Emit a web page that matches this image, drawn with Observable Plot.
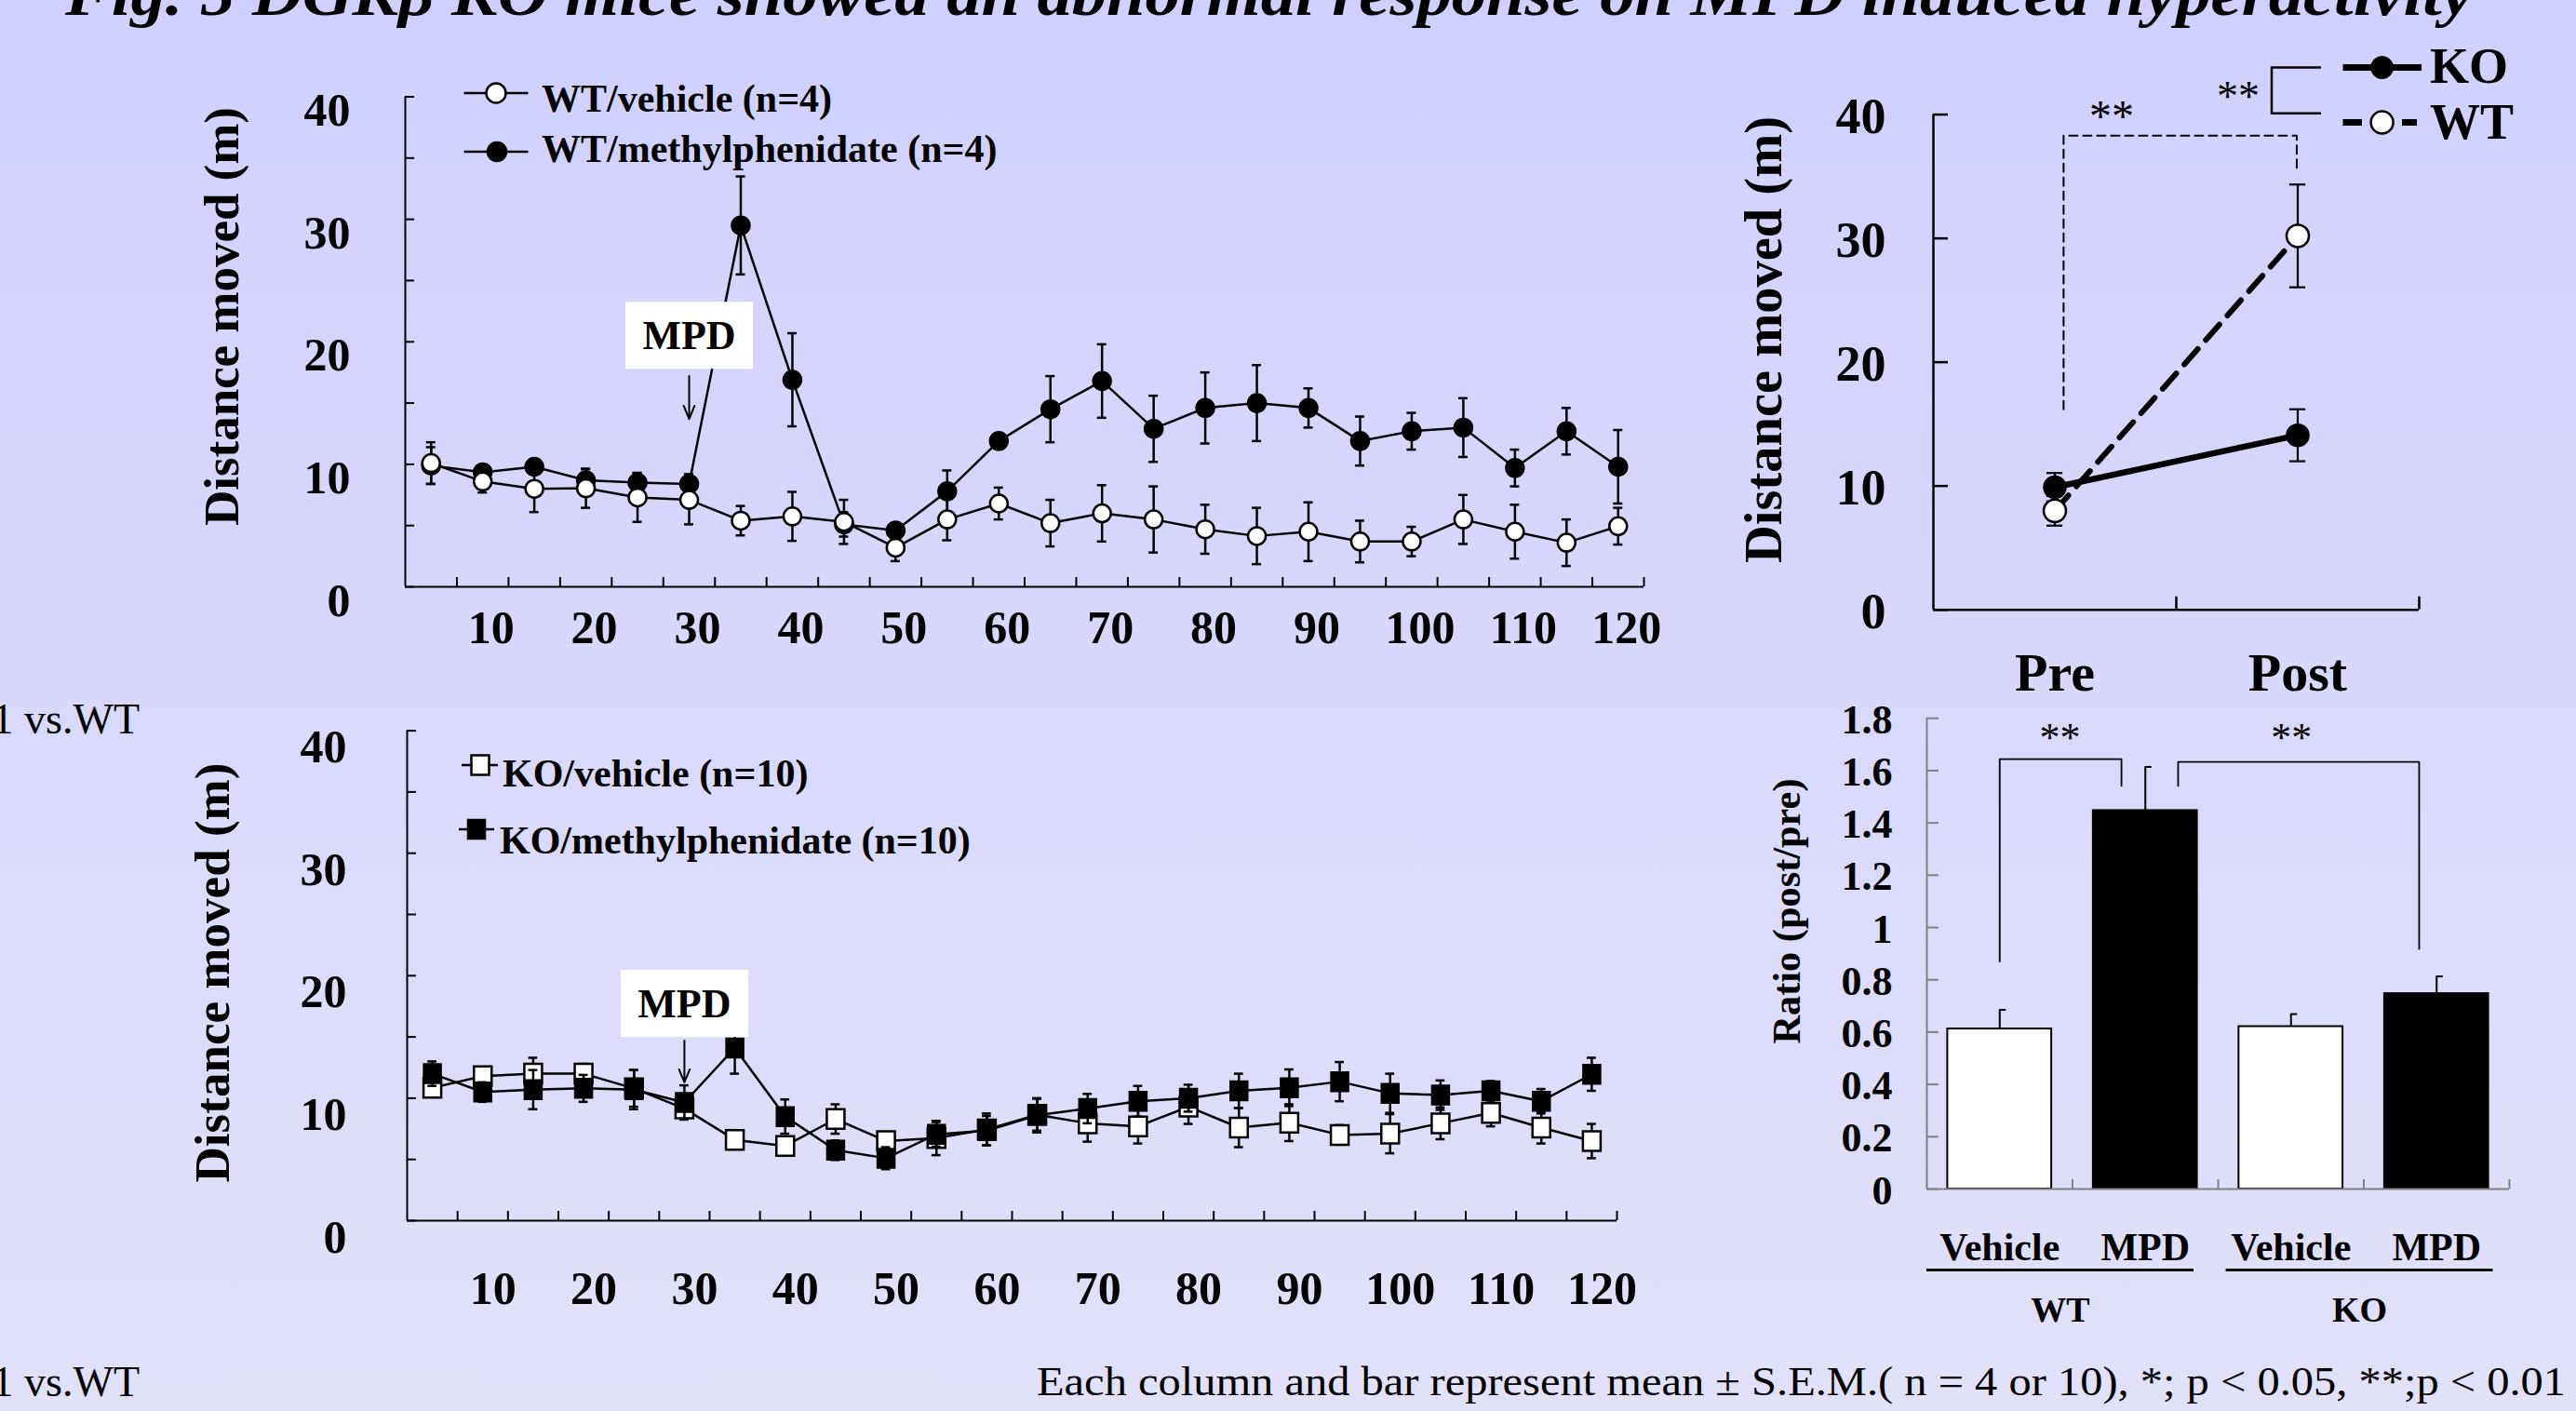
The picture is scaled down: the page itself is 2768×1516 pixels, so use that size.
<!DOCTYPE html>
<html><head><meta charset="utf-8">
<script src="https://cdn.jsdelivr.net/npm/d3@7"></script>
<script src="https://cdn.jsdelivr.net/npm/@observablehq/plot@0.6"></script>
<style>
html,body{margin:0;padding:0;}
body{width:2768px;height:1516px;position:relative;overflow:hidden;background:linear-gradient(to bottom,#d0d0fe 0%,#e1e1fa 100%);}
.panel{position:absolute;}
.panel svg{max-width:none !important;overflow:visible;}
#overlay{position:absolute;left:0;top:0;pointer-events:none;overflow:visible;}
</style></head><body>
<div id="pA" class="panel" style="left:0;top:0;width:1800px;height:720px"></div>
<div id="pB" class="panel" style="left:0;top:700px;width:1800px;height:780px"></div>
<div id="pC" class="panel" style="left:1850px;top:0;width:918px;height:780px"></div>
<div id="pD" class="panel" style="left:1850px;top:700px;width:918px;height:816px"></div>
<svg id="overlay" width="2768" height="1516"></svg>
<script>
// ---------------- data ----------------
const time = [5,10,15,20,25,30,35,40,45,50,55,60,65,70,75,80,85,90,95,100,105,110,115,120];
const xLabelTicks = [10,20,30,40,50,60,70,80,90,100,110,120];
const yMajorTicks = [0,10,20,30,40];
const yMinorTicks = [0,5,10,15,20,25,30,35,40];

const wtVehMean = [10.1,8.6,8.0,8.05,7.3,7.1,5.4,5.75,5.3,3.2,5.5,6.8,5.2,6.0,5.5,4.7,4.15,4.5,3.7,3.7,5.5,4.5,3.6,4.95];
const wtVehSem  = [1.7,0.9,1.9,1.6,2.0,2.0,1.2,2.0,1.8,1.1,1.7,1.3,1.9,2.3,2.7,2.0,2.3,2.4,1.7,1.2,2.0,2.2,1.9,1.5];
const wtMpdMean = [9.9,9.35,9.8,8.7,8.5,8.4,29.5,16.9,5.1,4.6,7.8,11.9,14.5,16.8,12.9,14.6,15.0,14.6,11.9,12.7,13.0,9.7,12.7,9.8];
const wtMpdSem  = [1.5,0.4,0.6,0.9,0.8,0.8,4.0,3.8,1.0,0.5,1.7,0.5,2.7,3.0,2.7,2.9,3.1,1.6,2.0,1.5,2.4,1.5,1.9,3.0];
const koVehMean = [10.85,11.8,12.0,12.0,10.8,9.15,6.6,6.1,8.3,6.5,6.75,7.45,8.65,7.95,7.7,9.3,7.6,8.0,7.0,7.1,7.95,8.8,7.6,6.5];
const koVehSem  = [0.5,0.6,1.3,0.8,1.5,0.8,0.3,0.5,1.2,0.5,1.4,1.3,1.3,1.5,1.4,1.4,1.6,1.5,0.8,1.6,1.3,1.1,1.3,1.4];
const koMpdMean = [12.0,10.5,10.7,10.8,10.7,9.65,14.1,8.5,5.75,5.1,7.05,7.35,8.6,9.15,9.75,10.0,10.6,10.85,11.35,10.4,10.25,10.6,9.75,11.95];
const koMpdSem  = [1.0,0.8,1.6,1.1,1.6,1.4,2.1,1.4,0.8,0.9,1.0,1.2,1.4,1.2,1.25,1.1,1.4,1.5,1.6,1.6,1.2,0.8,1.0,1.35];

const phases = ["Pre","Post"];
const koPPMean = [9.9, 14.1];
const koPPSem  = [1.15, 2.1];
const wtPPMean = [8.0, 30.2];
const wtPPSem  = [1.2, 4.15];

const ratioTreat = ["Vehicle","MPD","Vehicle","MPD"];
const ratioGenotype = ["WT","WT","KO","KO"];
const ratioMean = [0.612, 1.447, 0.621, 0.747];
const ratioSem  = [0.073, 0.167, 0.048, 0.066];
const ratioTicks = [0,0.2,0.4,0.6,0.8,1,1.2,1.4,1.6,1.8];

// annotations
const mpdA = [{x:30, y1:17.2, y2:13.7, ty:20.5, label:"MPD"}];
const mpdB = [{x:30, y1:14.7, y2:11.3, ty:17.7, label:"MPD"}];
const sigC = [{x:0.036,y:16.2},{x:0.036,y:38.3},{x:0.996,y:38.3},{x:0.996,y:35.5}];
const sigCStar = [{x:0.234,y:40.35,label:"**"}];
const sigD = [
  {b:1,x:0.0,y:0.87},{b:1,x:0.0,y:1.644},{b:1,x:0.836,y:1.644},{b:1,x:0.836,y:1.542},
  {b:2,x:1.225,y:1.542},{b:2,x:1.225,y:1.633},{b:2,x:2.88,y:1.633},{b:2,x:2.88,y:0.918}
];
const sigDStar = [{x:0.414,y:1.747,label:"**"},{x:2.003,y:1.747,label:"**"}];
const groupSpans = [{name:"WT",x1:-0.5,x2:1.334},{name:"KO",x1:1.555,x2:3.388}];

// ---------------- helpers ----------------
const SERIF = "'Liberation Serif','Times New Roman',serif";
const baseStyle = {background:"transparent", fontFamily:SERIF, fontWeight:"bold", color:"black", overflow:"visible"};
const series = (m, s) => time.map((t,i) => ({t, m:m[i], s:s[i]}));
const wtVeh = series(wtVehMean, wtVehSem);
const wtMpd = series(wtMpdMean, wtMpdSem);
const koVeh = series(koVehMean, koVehSem);
const koMpd = series(koMpdMean, koMpdSem);
const xBoundaryTicks = time.map(t => t + 2.5);

const rectSymbol = {draw(ctx){ const w=9.5, h=10.5; ctx.moveTo(-w,-h); ctx.lineTo(w,-h); ctx.lineTo(w,h); ctx.lineTo(-w,h); ctx.closePath(); }};

function errMarks(data, xk, cap, sw){
  return [
    Plot.ruleX(data, {x:xk, y1:d=>d.m-d.s, y2:d=>d.m+d.s, stroke:"black", strokeWidth:sw}),
    Plot.ruleY(data, {y:d=>d.m+d.s, x1:d=>d[xk]-cap, x2:d=>d[xk]+cap, stroke:"black", strokeWidth:sw}),
    Plot.ruleY(data, {y:d=>d.m-d.s, x1:d=>d[xk]-cap, x2:d=>d[xk]+cap, stroke:"black", strokeWidth:sw})
  ];
}

function timePanel({width,height,ml,mr,mt,mb,labPad,labDy,xPad,xDx,seriesMarks,mpd}){
  return Plot.plot({
    width, height, marginLeft:ml, marginRight:mr, marginTop:mt, marginBottom:mb,
    style:{...baseStyle, fontSize:"50px"},
    x:{type:"linear", domain:[2.5,122.5], label:null},
    y:{type:"linear", domain:[0,40], label:null},
    marks:[
      Plot.axisY({ticks:yMinorTicks, tickSize:10, dx:10, tickFormat:()=>"", strokeWidth:2, label:null}),
      Plot.axisY({ticks:yMajorTicks, tickSize:0, tickPadding:labPad, dy:labDy, fontSize:50, fontWeight:"bold", label:null}),
      Plot.axisX({ticks:xBoundaryTicks, tickSize:10, dy:-10, tickFormat:()=>"", strokeWidth:2, label:null}),
      Plot.axisX({ticks:xLabelTicks, tickSize:0, tickPadding:xPad, dx:xDx, fontSize:50, fontWeight:"bold", label:null}),
      Plot.ruleX([2.5], {stroke:"black", strokeWidth:2}),
      Plot.ruleY([0], {stroke:"black", strokeWidth:2}),
      ...seriesMarks,
      Plot.arrow(mpd, {x1:"x", x2:"x", y1:"y1", y2:"y2", headLength:15, headAngle:45, stroke:"black", strokeWidth:2}),
      Plot.text(mpd, {x:"x", y:"ty", text:"label", fontSize:44, fontWeight:"bold"})
    ]
  });
}

// ---------------- Panel A ----------------
const A = timePanel({
  width:1800, height:720, ml:435, mr:34, mt:103.5, mb:90, labPad:59, labDy:15, xPad:25, xDx:9, mpd:mpdA,
  seriesMarks:[
    Plot.line(wtMpd, {x:"t", y:"m", stroke:"black", strokeWidth:2.5}),
    ...errMarks(wtMpd, "t", 0.45, 2.5),
    Plot.dot(wtMpd, {x:"t", y:"m", r:10, fill:"black", stroke:"black", strokeWidth:1.5}),
    Plot.line(wtVeh, {x:"t", y:"m", stroke:"black", strokeWidth:2.5}),
    ...errMarks(wtVeh, "t", 0.45, 2.5),
    Plot.dot(wtVeh, {x:"t", y:"m", r:9.5, fill:"white", stroke:"black", strokeWidth:2.5})
  ]
});
document.getElementById("pA").appendChild(A);

// ---------------- Panel B ----------------
const B = timePanel({
  width:1800, height:780, ml:437, mr:63, mt:84.6, mb:169, labPad:65, labDy:18, xPad:54, xDx:11, mpd:mpdB,
  seriesMarks:[
    Plot.line(koVeh, {x:"t", y:"m", stroke:"black", strokeWidth:2.5}),
    ...errMarks(koVeh, "t", 0.45, 2.5),
    Plot.dot(koVeh, {x:"t", y:"m", symbol:rectSymbol, fill:"white", stroke:"black", strokeWidth:2.5}),
    Plot.line(koMpd, {x:"t", y:"m", stroke:"black", strokeWidth:2.5}),
    ...errMarks(koMpd, "t", 0.45, 2.5),
    Plot.dot(koMpd, {x:"t", y:"m", symbol:rectSymbol, fill:"black", stroke:"black", strokeWidth:1.5})
  ]
});
document.getElementById("pB").appendChild(B);

// ---------------- Panel C ----------------
const koPP = phases.map((p,i)=>({i, m:koPPMean[i], s:koPPSem[i]}));
const wtPP = phases.map((p,i)=>({i, m:wtPPMean[i], s:wtPPSem[i]}));
const C = Plot.plot({
  width:918, height:780, marginLeft:227, marginRight:169, marginTop:122.6, marginBottom:125.3,
  style:{...baseStyle, fontSize:"54px"},
  x:{type:"linear", domain:[-0.5,1.5], label:null},
  y:{type:"linear", domain:[0,40], label:null},
  marks:[
    Plot.axisY({ticks:yMajorTicks, tickSize:16, dx:16, tickFormat:()=>"", strokeWidth:2.5, label:null}),
    Plot.axisY({ticks:yMajorTicks, tickSize:0, tickPadding:51, dy:3, fontSize:54, fontWeight:"bold", label:null}),
    Plot.axisX({ticks:[0.5,1.5], tickSize:14, dy:-14, tickFormat:()=>"", strokeWidth:2.5, label:null}),
    Plot.axisX({ticks:[0,1], tickFormat:i=>phases[i], tickSize:0, tickPadding:46, fontSize:58, fontWeight:"bold", label:null}),
    Plot.ruleX([-0.5], {stroke:"black", strokeWidth:2.5}),
    Plot.ruleY([0], {stroke:"black", strokeWidth:2.5}),
    Plot.line(sigC, {x:"x", y:"y", stroke:"black", strokeWidth:2, strokeDasharray:"9,6"}),
    Plot.text(sigCStar, {x:"x", y:"y", text:"label", fontSize:48, fontWeight:"normal", dy:7}),
    Plot.line(koPP, {x:"i", y:"m", stroke:"black", strokeWidth:6.5}),
    ...errMarks(koPP, "i", 0.033, 2.2),
    Plot.dot(koPP, {x:"i", y:"m", r:12, fill:"black", stroke:"black"}),
    Plot.line(wtPP, {x:"i", y:"m", stroke:"black", strokeWidth:6, strokeDasharray:"22,13"}),
    ...errMarks(wtPP, "i", 0.033, 2.2),
    Plot.dot(wtPP, {x:"i", y:"m", r:12, fill:"white", stroke:"black", strokeWidth:2.5})
  ]
});
document.getElementById("pC").appendChild(C);

// ---------------- Panel D ----------------
const bars = ratioTreat.map((t,i)=>({i, treat:t, geno:ratioGenotype[i], v:ratioMean[i], s:ratioSem[i]}));
const groups = groupSpans.map(g=>({...g, cx:(g.x1+g.x2)/2}));
const D = Plot.plot({
  width:918, height:816, marginLeft:220, marginRight:72, marginTop:71.25, marginBottom:239,
  style:{...baseStyle, fontSize:"44px"},
  x:{type:"linear", domain:[-0.5,3.5], label:null},
  y:{type:"linear", domain:[0,1.8], label:null},
  marks:[
    Plot.rect(bars, {x1:d=>d.i-0.357, x2:d=>d.i+0.357, y1:()=>0, y2:"v", fill:d=>d.treat==="MPD"?"black":"white", stroke:"black", strokeWidth:2}),
    Plot.ruleX(bars, {x:"i", y1:"v", y2:d=>d.v+d.s, stroke:"black", strokeWidth:2}),
    Plot.ruleY(bars, {y:d=>d.v+d.s, x1:"i", x2:d=>d.i+0.045, stroke:"black", strokeWidth:2}),
    Plot.axisY({ticks:ratioTicks, tickSize:13, dx:13, tickFormat:()=>"", stroke:"#808080", strokeWidth:2, label:null}),
    Plot.axisY({ticks:ratioTicks, tickSize:0, tickPadding:37, dy:2, tickFormat:d=>String(+d.toFixed(1)), fontSize:44, fontWeight:"bold", label:null}),
    Plot.axisX({ticks:[0.5,1.5,2.5,3.5], tickSize:10, dy:-10, tickFormat:()=>"", stroke:"#808080", strokeWidth:2, label:null}),
    Plot.axisX({ticks:[0,1,2,3], tickFormat:i=>ratioTreat[i], tickSize:0, tickPadding:47, fontSize:42, fontWeight:"bold", label:null}),
    Plot.ruleX([-0.5], {stroke:"#808080", strokeWidth:2}),
    Plot.ruleY([0], {stroke:"#808080", strokeWidth:2}),
    Plot.ruleY(groups, {y:()=>0, x1:"x1", x2:"x2", dy:87, stroke:"black", strokeWidth:3}),
    Plot.text(groups, {x:"cx", y:()=>0, text:"name", dy:130, fontSize:38, fontWeight:"bold"}),
    Plot.line(sigD, {x:"x", y:"y", z:"b", stroke:"black", strokeWidth:1.8}),
    Plot.text(sigDStar, {x:"x", y:"y", text:"label", fontSize:44, fontWeight:"normal", dy:6})
  ]
});
document.getElementById("pD").appendChild(D);

// white boxes behind the "MPD" notes
document.querySelectorAll("#pA svg text, #pB svg text").forEach(t => {
  if (t.textContent.trim() !== "MPD") return;
  const b = t.getBBox();
  const cx = b.x + b.width/2, cy = b.y + b.height/2;
  const r = document.createElementNS("http://www.w3.org/2000/svg","rect");
  r.setAttribute("x", cx - 68.5); r.setAttribute("y", cy - 36);
  r.setAttribute("width", 137); r.setAttribute("height", 72);
  r.setAttribute("fill", "white");
  if (t.getAttribute("transform")) r.setAttribute("transform", t.getAttribute("transform"));
  t.parentNode.insertBefore(r, t);
});

// ---------------- overlay texts & legends ----------------
const ov = d3.select("#overlay");
function T(x, y, s, {size=42, weight="bold", style="normal", anchor="start", rotate=0, length=null}={}) {
  const t = ov.append("text")
    .attr("transform", `translate(${x},${y})` + (rotate ? ` rotate(${rotate})` : ""))
    .attr("font-family", SERIF).attr("font-size", size).attr("font-weight", weight)
    .attr("font-style", style).attr("text-anchor", anchor).attr("fill", "black").text(s);
  if (length) t.attr("textLength", length).attr("lengthAdjust", "spacingAndGlyphs");
  return t;
}
function L(pts, sw, dash){ const p = ov.append("polyline").attr("points", pts.map(p=>p.join(",")).join(" "))
  .attr("fill","none").attr("stroke","black").attr("stroke-width", sw); if (dash) p.attr("stroke-dasharray", dash); return p; }
function circ(x,y,r,fill,sw){ ov.append("circle").attr("cx",x).attr("cy",y).attr("r",r).attr("fill",fill).attr("stroke","black").attr("stroke-width",sw); }
function sq(x,y,fill){ ov.append("rect").attr("x",x-9.5).attr("y",y-10.5).attr("width",19).attr("height",21).attr("fill",fill).attr("stroke","black").attr("stroke-width",fill==="white"?2.5:1.5); }

T(70, 16, "Fig. 5 DGK\u03B2 KO mice showed an abnormal response on MPD induced hyperactivity", {size:66, style:"italic", length:2587});
T(1114, 1499, "Each column and bar represent mean \u00B1 S.E.M.( n = 4 or 10), *; p < 0.05, **;p < 0.01", {size:44, weight:"normal", length:1643});
T(150, 788, "**; p < 0.01 vs.WT", {size:46, weight:"normal", anchor:"end"});
T(150, 1500, "**; p < 0.01 vs.WT", {size:46, weight:"normal", anchor:"end"});

T(256, 340, "Distance moved (m)", {size:52, anchor:"middle", rotate:-90, length:450});
T(246, 1045, "Distance moved (m)", {size:52, anchor:"middle", rotate:-90, length:451});
T(1914, 365, "Distance moved (m)", {size:56, anchor:"middle", rotate:-90, length:480});
T(1934, 979, "Ratio (post/pre)", {size:42, anchor:"middle", rotate:-90, length:285});

// legend A
L([[498.6,100],[567.5,100]], 2.5); circ(533,100,10.5,"white",2.5);
T(582, 120, "WT/vehicle (n=4)", {size:42});
L([[498.6,163],[567.5,163]], 2.5); circ(534,163,10.5,"black",1.5);
T(582, 174, "WT/methylphenidate (n=4)", {size:42});
// legend B
L([[496,822],[535,822]], 2.5); sq(516,822,"white");
T(540, 845, "KO/vehicle (n=10)", {size:42});
L([[493,891],[531,891]], 2.5); sq(512,891,"black");
T(537, 917, "KO/methylphenidate (n=10)", {size:42});
// legend C
L([[2517.5,72.6],[2602,72.6]], 7); circ(2559.6,72.6,12,"black",1);
T(2611, 89, "KO", {size:54});
L([[2517.5,131.5],[2538,131.5]], 7); L([[2581,131.5],[2597,131.5]], 7); circ(2559.6,131.5,12,"white",2.5);
T(2611, 149, "WT", {size:54});
L([[2494,72.6],[2441,72.6],[2441,121.7],[2494,121.7]], 2.5);
T(2405, 119, "**", {size:46, weight:"normal", anchor:"middle"});
</script>
</body></html>
